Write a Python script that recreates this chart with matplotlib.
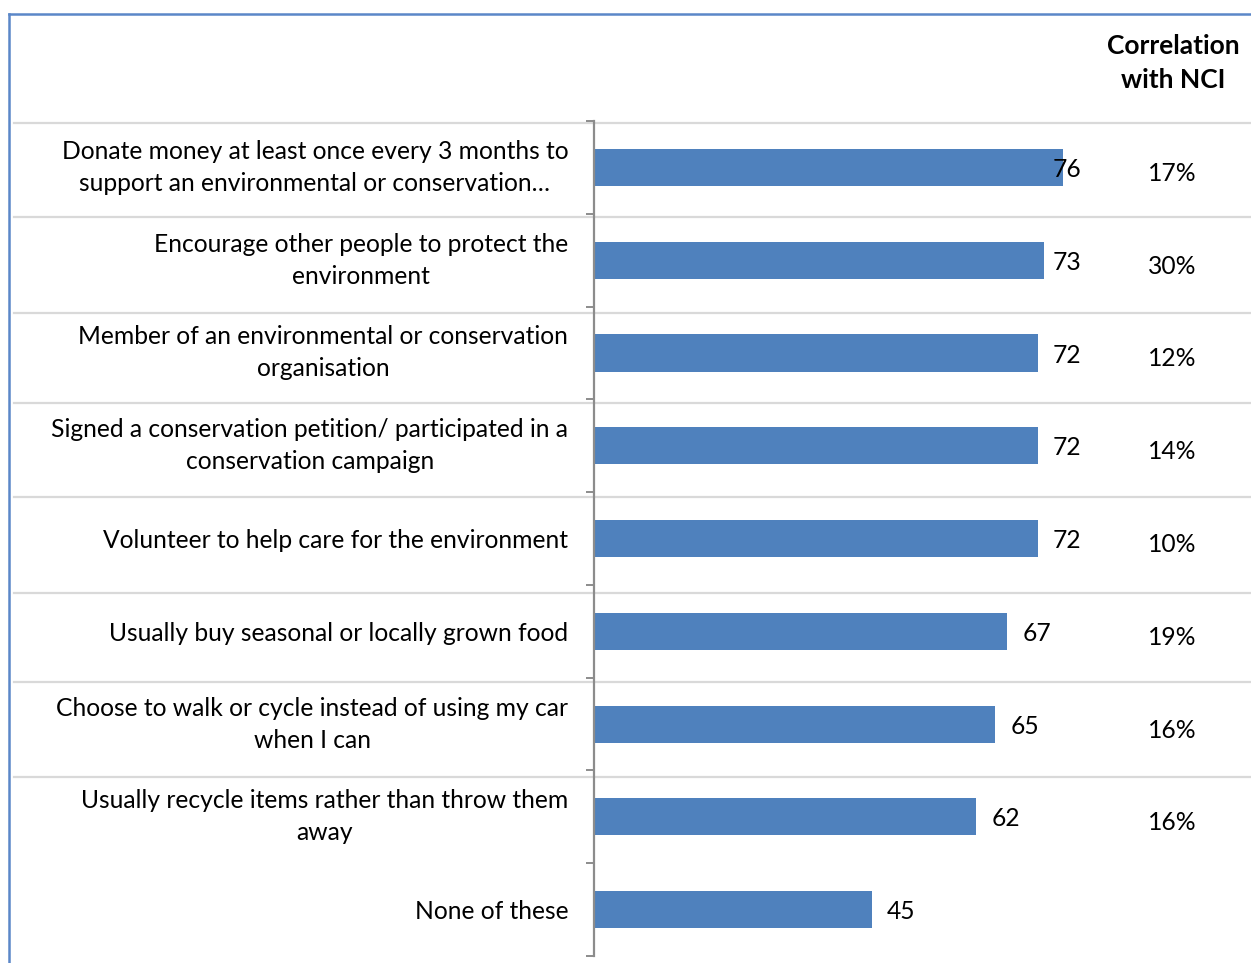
import matplotlib
matplotlib.use("Agg")
import matplotlib.pyplot as plt
from matplotlib.lines import Line2D

categories = [
    "Donate money at least once every 3 months to\nsupport an environmental or conservation…",
    "Encourage other people to protect the\nenvironment",
    "Member of an environmental or conservation\norganisation",
    "Signed a conservation petition/ participated in a\nconservation campaign",
    "Volunteer to help care for the environment",
    "Usually buy seasonal or locally grown food",
    "Choose to walk or cycle instead of using my car\nwhen I can",
    "Usually recycle items rather than throw them\naway",
    "None of these",
]
values = [76, 73, 72, 72, 72, 67, 65, 62, 45]
correlations = ["17%", "30%", "12%", "14%", "10%", "19%", "16%", "16%", ""]
header = "Correlation\nwith NCI"

FONT = "Lato"
FS = 17.7
FS_HEADER = 19.0
LS = 1.47
BAR_COLOR = "#4F81BD"
W, H = 1251, 963

plt.rcParams["font.family"] = [FONT, "DejaVu Sans"]

fig = plt.figure(figsize=(W / 100, H / 100), dpi=100)

# table borders / separators (figure coordinates)
sep_y = [123, 217, 313, 403, 497, 593, 682, 777]
for y in sep_y:
    fig.add_artist(Line2D([14 / W, 1.0], [1 - y / H, 1 - y / H], color="#D9D9D9", lw=1.6,
                          transform=fig.transFigure, zorder=0))
fig.add_artist(Line2D([8.5 / W, 8.5 / W], [0, 1 - 14 / H], color="#5B87C8", lw=1.8,
                      transform=fig.transFigure))
fig.add_artist(Line2D([8.5 / W, 1.0], [1 - 14 / H, 1 - 14 / H], color="#5B87C8", lw=1.8,
                      transform=fig.transFigure))

ax = fig.add_axes([594 / W, 7 / H, 657 / W, 835 / H])
ax.patch.set_alpha(0)
n = len(categories)
ypos = list(range(n))
ax.barh(ypos, values, height=0.4, color=BAR_COLOR, zorder=2)
ax.set_xlim(0, 106.5)
ax.set_ylim(n - 0.5, -0.5)

for s in ["top", "right", "bottom"]:
    ax.spines[s].set_visible(False)
ax.spines["left"].set_color("#8C8C8C")
ax.spines["left"].set_linewidth(1.6)
ax.set_xticks([])

ax.set_yticks(ypos)
ax.set_yticklabels(categories, fontsize=FS, color="#000000")
for lab in ax.get_yticklabels():
    lab.set_multialignment("center")
    lab.set_linespacing(LS)
    if "\n" in lab.get_text():
        lab.set_verticalalignment("center")
ax.tick_params(axis="y", which="major", length=0, pad=18.5)
ax.set_yticks([i - 0.5 for i in range(n + 1)], minor=True)
ax.tick_params(axis="y", which="minor", length=6, width=1.4, color="#8C8C8C", direction="out")

# value labels (Excel keeps them inside the plot area)
for i, v in enumerate(values):
    ax.annotate(str(v), (min(v + 2.5, 74.4), i), xytext=(0, -1.5), textcoords="offset points",
                va="center", ha="left", fontsize=FS, color="#000000", zorder=3)

# correlation column
for i, c in enumerate(correlations):
    if c:
        ax.annotate(c, (93.8, i), xytext=(0, -4.3), textcoords="offset points",
                    va="center", ha="center", fontsize=FS, color="#000000")

fig.text(1173 / W, 1 - 63 / H, header, ha="center", va="center", fontsize=FS_HEADER,
         fontweight="bold", linespacing=1.45)

fig.savefig("out.png", dpi=100)
